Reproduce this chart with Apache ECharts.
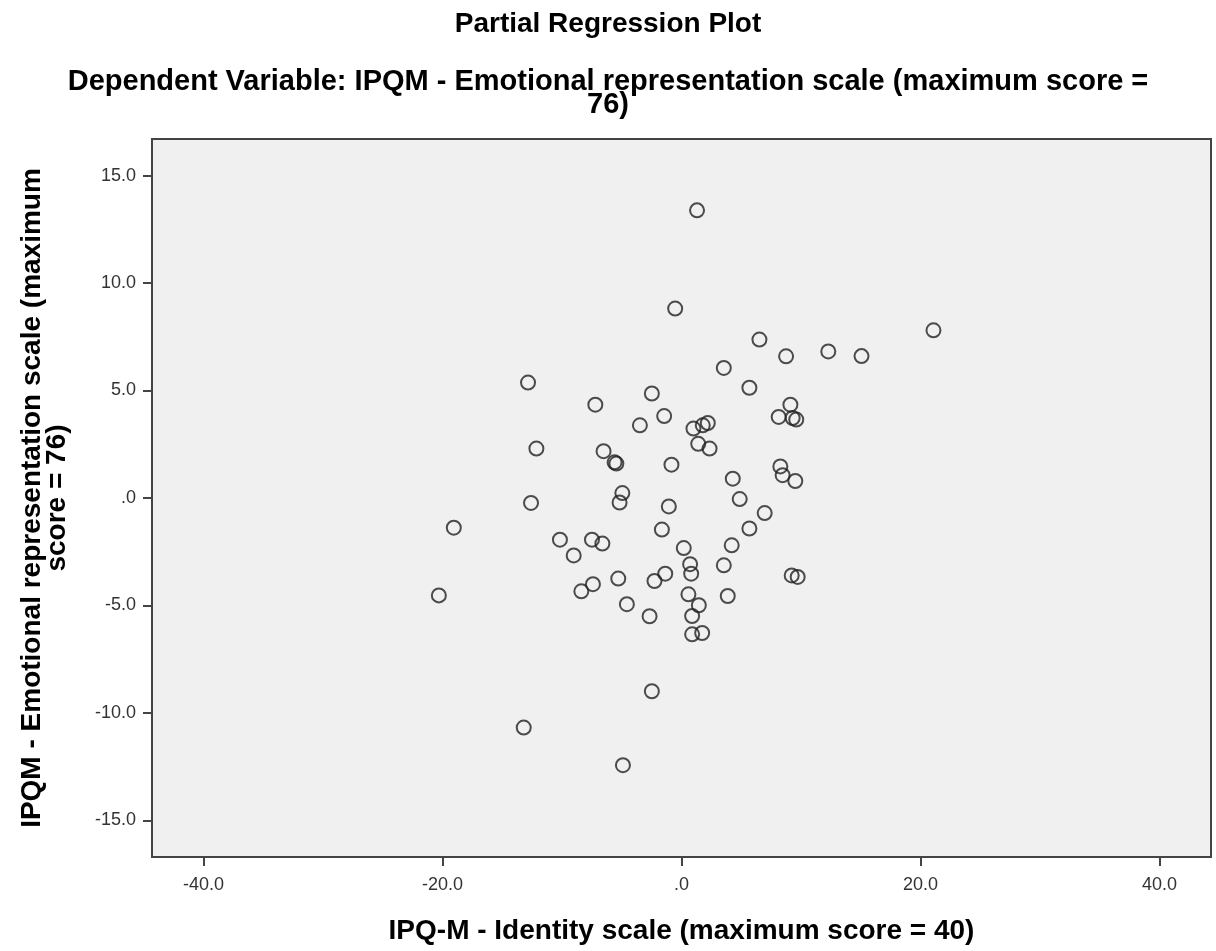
<!DOCTYPE html>
<html>
<head>
<meta charset="utf-8">
<script src="https://cdn.jsdelivr.net/npm/echarts@6/dist/echarts.min.js"></script>
<style>
  html, body { margin: 0; padding: 0; background: #fff; }
  #chart { width: 1216px; height: 951px; }
</style>
</head>
<body>
<div id="chart"></div>
<script>
// partial residuals
const identityX = [
  1.3, -0.53, 21.08, 6.52, 8.75, 12.28, 15.06, 3.54, -12.84, 5.68,
  -2.48, -7.21, 9.11, -1.45, 8.13, 9.3, 9.6, -3.48, 1.0, 1.78,
  2.2, -12.14, -6.52, -5.6, -5.45, -0.84, 1.4, 2.35, 8.27, 8.46,
  9.52, 4.29, 4.87, -4.95, -5.18, -1.06, -12.59, 6.96, -19.05, -1.64,
  5.68, -10.17, -7.49, -6.62, -9.02, 0.19, 4.2, 0.72, 0.81, -1.36,
  -2.26, -5.29, 3.54, 9.22, 9.72, -7.41, -8.38, -20.3, 0.58, 3.87,
  1.45, -4.57, -2.67, 0.89, 0.89, 1.73, -2.48, -13.2, -4.9
]
const emotionalY = [
  13.38, 8.81, 7.8, 7.37, 6.59, 6.82, 6.6, 6.05, 5.37, 5.13,
  4.86, 4.34, 4.34, 3.81, 3.77, 3.72, 3.65, 3.38, 3.23, 3.38,
  3.49, 2.3, 2.18, 1.66, 1.6, 1.55, 2.52, 2.3, 1.47, 1.06,
  0.79, 0.9, -0.05, 0.23, -0.21, -0.39, -0.23, -0.7, -1.38, -1.47,
  -1.42, -1.94, -1.94, -2.12, -2.67, -2.33, -2.2, -3.08, -3.52, -3.52,
  -3.86, -3.75, -3.13, -3.6, -3.67, -4.01, -4.34, -4.53, -4.48, -4.56,
  -4.99, -4.94, -5.5, -5.49, -6.34, -6.28, -8.99, -10.68, -12.43
]
const xTicks = [-40, -20, 0, 20, 40]
const yTicks = [-15, -10, -5, 0, 5, 10, 15]

const fmt = (v) => (v === 0 ? '.0' : Number(v).toFixed(1))
const axisColor = '#444'
const boldText = { fontFamily: 'Liberation Sans', fontWeight: 'bold', color: '#000' }

const chart = echarts.init(document.getElementById('chart'))

chart.setOption({
  animation: false,
  title: [
    { text: 'Partial Regression Plot', left: 'center', top: 5, textStyle: { ...boldText, fontSize: 28 } },
    {
      text: 'Dependent Variable: IPQM - Emotional representation scale (maximum score =',
      left: 'center',
      top: 62,
      textStyle: { ...boldText, fontSize: 29 },
    },
    { text: '76)', left: 'center', top: 85, textStyle: { ...boldText, fontSize: 29 } },
  ],
  grid: { left: 152, right: 5, top: 139, bottom: 94, show: true, backgroundColor: '#f0f0f0', borderColor: axisColor, borderWidth: 2 },
  xAxis: {
    type: 'value',
    min: -44.3,
    max: 44.3,
    name: 'IPQ-M - Identity scale (maximum score = 40)',
    nameLocation: 'middle',
    nameGap: 60,
    nameTextStyle: { ...boldText, fontSize: 28 },
    splitLine: { show: false },
    axisLine: { onZero: false, lineStyle: { color: axisColor, width: 2 } },
    axisTick: { customValues: xTicks, length: 9, lineStyle: { color: axisColor, width: 2 } },
    axisLabel: { customValues: xTicks, formatter: fmt, margin: 19, fontFamily: 'Liberation Sans', fontSize: 18, color: '#333' },
  },
  yAxis: {
    type: 'value',
    min: -16.7,
    max: 16.7,
    name: 'IPQM - Emotional representation scale (maximum\nscore = 76)',
    nameLocation: 'middle',
    nameGap: 82,
    nameTextStyle: { ...boldText, fontSize: 28, lineHeight: 25 },
    splitLine: { show: false },
    axisLine: { onZero: false, lineStyle: { color: axisColor, width: 2 } },
    axisTick: { customValues: yTicks, length: 9, lineStyle: { color: axisColor, width: 2 } },
    axisLabel: { customValues: yTicks, formatter: fmt, margin: 16, fontFamily: 'Liberation Sans', fontSize: 18, color: '#333' },
  },
  series: [
    {
      type: 'scatter',
      data: identityX.map((x, i) => [x, emotionalY[i]]),
      symbol: 'circle',
      symbolSize: 14,
      itemStyle: { color: 'rgba(0,0,0,0)', borderColor: '#222', borderWidth: 2 },
    },
  ],
})
</script>
</body>
</html>
